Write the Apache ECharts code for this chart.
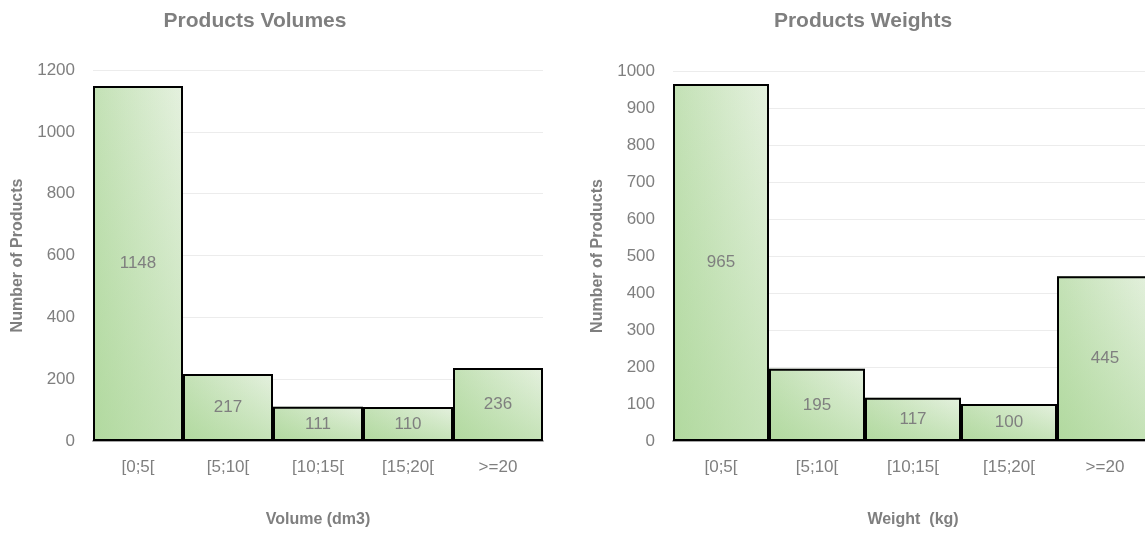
<!DOCTYPE html>
<html>
<head>
<meta charset="utf-8">
<script src="https://cdn.jsdelivr.net/npm/echarts@6/dist/echarts.min.js"></script>
<style>html,body{margin:0;padding:0;background:#fff;overflow:hidden;width:1145px;height:533px}#c{width:1153px;height:533px}</style>
</head>
<body>
<div id="c"></div>
<script>
const categories = ['[0;5[', '[5;10[', '[10;15[', '[15;20[', '>=20'];
const volumeCounts = [1148, 217, 111, 110, 236];
const weightCounts = [965, 195, 117, 100, 445];
const titles = ['Products Volumes', 'Products Weights'];
const xNames = ['Volume (dm3)', 'Weight  (kg)'];
const yName = 'Number of Products';

const grey = '#7f7f7f';
const font = 'Liberation Sans, Arial, sans-serif';
const baseColor = {
  type: 'linear', x: 0, y: 0, x2: 1, y2: 0,
  colorStops: [{offset: 0, color: '#c3e1b5'}, {offset: 1, color: '#e5f1df'}]
};
const shadeColor = {
  type: 'linear', x: 0, y: 0, x2: 0, y2: 1,
  colorStops: [{offset: 0, color: 'rgba(150,205,125,0)'}, {offset: 1, color: 'rgba(150,205,125,0.4)'}]
};

function xAxis(idx) {
  return {
    type: 'category', gridIndex: idx, data: categories,
    name: xNames[idx], nameLocation: 'middle', nameGap: 71,
    nameTextStyle: {color: grey, fontSize: 16, fontWeight: 'bold', fontFamily: font},
    axisLine: {lineStyle: {color: '#a6a6a6', width: 2}},
    axisTick: {show: false},
    axisLabel: {color: grey, fontSize: 17, margin: 18, fontFamily: font}
  };
}
function yAxis(idx, max, interval, gap) {
  return {
    type: 'value', gridIndex: idx, min: 0, max: max, interval: interval,
    name: yName, nameLocation: 'middle', nameGap: gap, nameRotate: 90,
    nameTextStyle: {color: grey, fontSize: 16, fontWeight: 'bold', fontFamily: font},
    axisLine: {show: false}, axisTick: {show: false},
    axisLabel: {color: grey, fontSize: 17, margin: 18, fontFamily: font,
                formatter: function (v) { return String(v); }},
    splitLine: {lineStyle: {color: '#ececec', width: 1}}
  };
}
function seriesPair(idx, data) {
  return [{
    type: 'bar', xAxisIndex: idx, yAxisIndex: idx, data: data,
    barCategoryGap: '0%', barGap: '-100%',
    itemStyle: {color: baseColor},
    silent: true
  }, {
    type: 'bar', xAxisIndex: idx, yAxisIndex: idx, data: data,
    barCategoryGap: '0%', barGap: '-100%',
    itemStyle: {color: shadeColor, borderColor: '#000', borderWidth: 2},
    label: {show: true, position: 'inside', color: grey, fontSize: 17, fontFamily: font},
    silent: true
  }];
}

const chart = echarts.init(document.getElementById('c'), null, {renderer: 'canvas'});
chart.setOption({
  animation: false,
  title: [
    {text: titles[0], left: 250, top: 6, textAlign: 'center',
     textStyle: {color: grey, fontSize: 21, fontWeight: 'bold', fontFamily: font}},
    {text: titles[1], left: 858, top: 6, textAlign: 'center',
     textStyle: {color: grey, fontSize: 21, fontWeight: 'bold', fontFamily: font}}
  ],
  grid: [
    {left: 93, width: 450, top: 70, bottom: 91, containLabel: false},
    {left: 673, right: 0, top: 71, bottom: 85, containLabel: false}
  ],
  xAxis: [xAxis(0), xAxis(1)],
  yAxis: [yAxis(0, 1200, 200, 67), yAxis(1, 1000, 100, 67)],
  series: seriesPair(0, volumeCounts).concat(seriesPair(1, weightCounts))
});
</script>
</body>
</html>
